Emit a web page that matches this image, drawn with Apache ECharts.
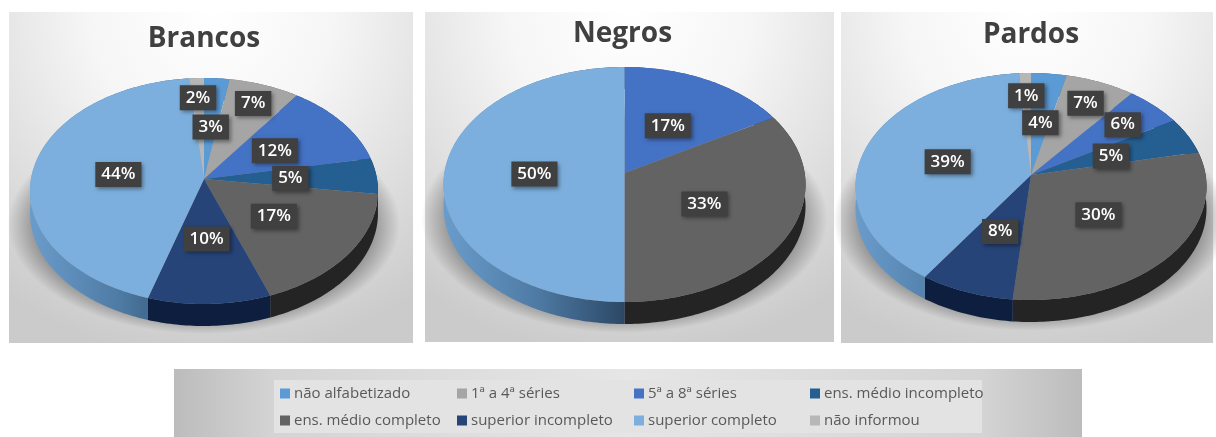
<!DOCTYPE html>
<html lang="pt">
<head>
    <meta charset="UTF-8">
    <script src="https://cdn.jsdelivr.net/npm/echarts@6/dist/echarts.min.js"></script>
    <title>Escolaridade por cor</title>
    <style>
        html, body { margin: 0; padding: 0; background: #fff; }
    </style>
</head>
<body>
<div id="main" style="width: 1216px;height:437px;"></div>
<script type="text/javascript">
    // values, in percent (labels show them rounded)
    var categories = ['não alfabetizado', '1ª a 4ª séries', '5ª a 8ª séries', 'ens. médio incompleto',
        'ens. médio completo', 'superior incompleto', 'superior completo', 'não informou'];
    var brancos = [2.6, 7.3, 12.1, 5.1, 17.3, 10.3, 43.8, 1.5];
    var negros = [0, 0, 16.7, 0, 33.3, 0, 50, 0];
    var pardos = [3.6, 7.1, 5.8, 5.2, 29.8, 7.9, 39.4, 1.2];

    var topColors = ['#5b9bd5', '#a5a5a5', '#4472c4', '#255e91', '#636363', '#264478', '#7cafdd', '#b7b7b7'];
    var sideColors = ['#3a6286', '#686868', '#2a4a80', '#163c5e', '#242424', '#0d1e3e', null, '#777777'];

    // how far out along the radius each label sits (0.5 unless it had to be pushed out)
    var reachBrancos = [0.5, 0.8, 0.5, 0.5, 0.5, 0.5, 0.5, 0.8];
    var reachNegros = [0.5, 0.5, 0.5, 0.5, 0.5, 0.5, 0.5, 0.5];
    var reachPardos = [0.5, 0.77, 0.73, 0.5, 0.5, 0.5, 0.5, 0.77];

    var pies = [
        {title: 'Brancos', values: brancos, reach: reachBrancos, cx: 204, cy: 179, rx: 174, up: 101, down: 125, depth: 22, titleY: 37,
            panel: [9, 12, 404, 331], titleX: 204},
        {title: 'Negros', values: negros, reach: reachNegros, cx: 624.5, cy: 173, rx: 181, up: 106, down: 129, depth: 22, titleY: 32,
            panel: [425, 12, 409, 330], titleX: 622.5},
        {title: 'Pardos', values: pardos, reach: reachPardos, cx: 1031, cy: 175, rx: 175.5, up: 102, down: 125, depth: 22, titleY: 33,
            panel: [841, 12, 372, 331], titleX: 1031}
    ];

    // the tilted disc: a circle seen in perspective, so the apex is not the middle of the ellipse
    function project(pie, r, pct) {
        var k = (pie.down - pie.up) / (pie.down + pie.up);
        var a = pie.up * (1 + k);
        var b = pie.rx * Math.sqrt(1 - k * k);
        var t = pct / 100 * Math.PI * 2;
        var u = r * Math.sin(t);
        var v = r * Math.cos(t);
        var w = 1 + k * v;
        return [pie.cx + b * u / w, pie.cy - a * v / w];
    }

    function arc(pie, from, to) {
        var pts = [];
        var steps = Math.max(2, Math.ceil((to - from) * 3.6));
        for (var i = 0; i <= steps; i++) {
            pts.push(project(pie, 1, from + (to - from) * i / steps));
        }
        return pts;
    }

    function startOf(pie, index) {
        var sum = 0;
        for (var i = 0; i < index; i++) sum += pie.values[i];
        return sum;
    }

    function sideFill(pie, index) {
        if (sideColors[index]) return sideColors[index];
        // the big light blue wall gets darker towards the front
        return new echarts.graphic.LinearGradient(pie.cx - pie.rx, 0, pie.cx, 0, [
            {offset: 0, color: '#6a9ccb'},
            {offset: 0.5, color: '#4f7ca6'},
            {offset: 1, color: '#2c4866'}
        ], true);
    }

    function sideSeries(pie) {
        return {
            type: 'custom',
            coordinateSystem: 'none',
            silent: true,
            animation: false,
            z: 3,
            data: pie.values,
            renderItem: function (params, api) {
                var value = api.value(0);
                if (!value) return;
                var start = startOf(pie, params.dataIndex);
                var edge = arc(pie, start, start + value);
                var lower = edge.map(function (p) { return [p[0], p[1] + pie.depth]; }).reverse();
                return {
                    type: 'polygon',
                    shape: {points: edge.concat(lower)},
                    style: {fill: sideFill(pie, params.dataIndex)}
                };
            }
        };
    }

    function faceSeries(pie) {
        return {
            type: 'custom',
            coordinateSystem: 'none',
            silent: true,
            animation: false,
            z: 4,
            data: pie.values,
            renderItem: function (params, api) {
                var value = api.value(0);
                if (!value) return;
                var start = startOf(pie, params.dataIndex);
                var pts = [[pie.cx, pie.cy]].concat(arc(pie, start, start + value));
                return {
                    type: 'polygon',
                    shape: {points: pts},
                    style: {fill: topColors[params.dataIndex]}
                };
            }
        };
    }

    function labelSeries(pie) {
        return {
            type: 'custom',
            coordinateSystem: 'none',
            silent: true,
            animation: false,
            z: 5,
            data: pie.values,
            renderItem: function (params, api) {
                var value = api.value(0);
                if (!value) return;
                var i = params.dataIndex;
                var pos = project(pie, pie.reach[i], startOf(pie, i) + value / 2);
                return {
                    type: 'text',
                    x: pos[0],
                    y: pos[1] + 1,
                    style: {
                        text: Math.round(value) + '%',
                        fill: '#fff',
                        font: '600 17px "Open Sans"',
                        align: 'center',
                        verticalAlign: 'middle',
                        backgroundColor: '#404040',
                        padding: [4, 6, 4, 6],
                        shadowColor: 'rgba(0,0,0,0.4)',
                        shadowBlur: 4,
                        shadowOffsetX: 2,
                        shadowOffsetY: 2
                    }
                };
            }
        };
    }

    var graphics = [];
    pies.forEach(function (pie) {
        graphics.push({
            type: 'rect',
            z: 0,
            silent: true,
            shape: {x: pie.panel[0], y: pie.panel[1], width: pie.panel[2], height: pie.panel[3]},
            style: {
                fill: new echarts.graphic.RadialGradient(0.5, 0, 1.05, [
                    {offset: 0, color: '#ffffff'},
                    {offset: 0.35, color: '#f6f6f6'},
                    {offset: 1, color: '#cbcbcb'}
                ])
            }
        });
        // soft shadow under the disc, a circle squashed so the fade follows the ellipse
        var shadowR = pie.rx + 22;
        graphics.push({
            type: 'circle',
            z: 1,
            silent: true,
            x: pie.cx,
            y: pie.cy + 45,
            scaleY: (pie.up + 9) / shadowR,
            shape: {cx: 0, cy: 0, r: shadowR},
            style: {
                fill: new echarts.graphic.RadialGradient(0.5, 0.5, 0.5, [
                    {offset: 0, color: 'rgba(80,80,80,0.55)'},
                    {offset: 0.86, color: 'rgba(80,80,80,0.5)'},
                    {offset: 1, color: 'rgba(80,80,80,0)'}
                ])
            }
        });
    });
    graphics.push({
        type: 'rect',
        z: 0,
        silent: true,
        shape: {x: 174, y: 369, width: 908, height: 68},
        style: {
            fill: new echarts.graphic.LinearGradient(0, 0, 1, 0, [
                {offset: 0, color: '#bcbcbc'},
                {offset: 0.11, color: '#d4d4d4'},
                {offset: 0.5, color: '#e6e6e6'},
                {offset: 0.89, color: '#d4d4d4'},
                {offset: 1, color: '#bcbcbc'}
            ])
        }
    });
    graphics.push({
        type: 'rect',
        z: 1,
        silent: true,
        shape: {x: 274, y: 380, width: 708, height: 53},
        style: {fill: '#e3e3e3'}
    });

    var series = [];
    pies.forEach(function (pie) {
        series.push(sideSeries(pie), faceSeries(pie), labelSeries(pie));
    });
    // zero sized pie, only here to feed the legends their names and colours
    series.push({
        type: 'pie',
        radius: [0, 0],
        center: [-50, -50],
        silent: true,
        animation: false,
        label: {show: false},
        labelLine: {show: false},
        data: categories.map(function (name, i) {
            return {name: name, value: 1, itemStyle: {color: topColors[i]}};
        })
    });

    var legendX = [280, 457, 634, 810];
    var legends = legendX.map(function (x, col) {
        return {
            left: x,
            top: 386,
            orient: 'vertical',
            selectedMode: false,
            itemWidth: 10,
            itemHeight: 10,
            itemGap: 12,
            icon: 'rect',
            padding: 0,
            textStyle: {color: '#595959', fontFamily: 'Open Sans', fontSize: 15, padding: [0, 0, 0, -1]},
            data: [categories[col], categories[col + 4]]
        };
    });

    var titles = pies.map(function (pie) {
        return {
            text: pie.title,
            left: pie.titleX,
            top: pie.titleY - 17,
            textAlign: 'center',
            padding: 0,
            textStyle: {color: '#404040', fontFamily: 'Open Sans', fontWeight: 'bold', fontSize: 28, lineHeight: 38}
        };
    });

    var myChart = echarts.init(document.getElementById('main'), null, {renderer: 'canvas'});
    myChart.setOption({
        backgroundColor: '#fff',
        animation: false,
        title: titles,
        legend: legends,
        graphic: {elements: graphics},
        series: series
    });
</script>
</body>
</html>
